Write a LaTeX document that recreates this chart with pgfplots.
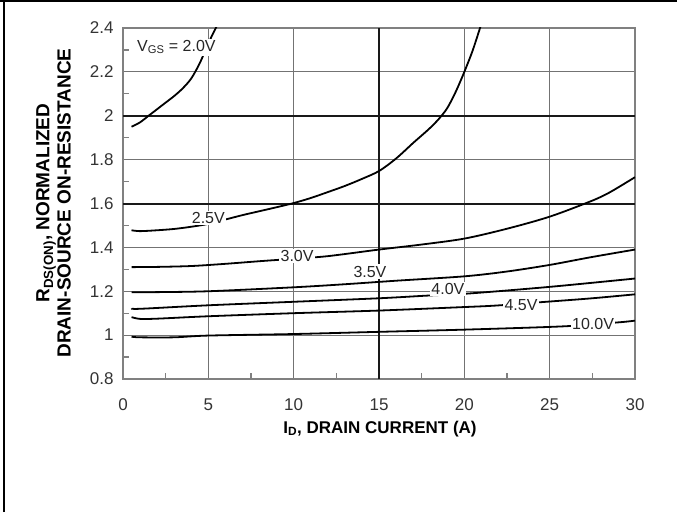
\documentclass[border=0pt]{standalone}
\usepackage{fontspec}
\setmainfont{Liberation Sans}
\usepackage{pgfplots}
\pgfplotsset{compat=1.18}
\definecolor{gridgray}{gray}{0.45}
\definecolor{axgray}{gray}{0.5}
\pgfplotsset{curve/.style={black, solid, line width=1.8pt, mark=none, smooth, tension=0.5}}
\begin{document}
\begin{tikzpicture}[x=1pt,y=1pt]
\useasboundingbox (0,0) rectangle (677,512);
\draw[line width=1.6pt] (0,511.2) -- (677,511.2);
\draw[line width=2.3pt] (3.8,0) -- (3.8,512);
\begin{axis}[
  at={(123pt,133pt)}, anchor=south west,
  width=512pt, height=351pt, scale only axis,
  xmin=0, xmax=30, ymin=0.8, ymax=2.4,
  xtick={0,5,10,20,25,30},
  ytick={0.8,1,1.2,1.4,1.8,2.2,2.4},
  yticklabels={0.8,1,1.2,1.4,1.8,2.2,2.4},
  minor xtick={2.5,7.5,12.5,17.5,22.5,27.5},
  minor ytick={0.9,1.1,1.3,1.5,1.7,1.9,2.1,2.3},
  extra x ticks={15}, extra x tick labels={15},
  extra y ticks={1.6,2.0}, extra y tick labels={1.6,2},
  extra tick style={grid=major, major grid style={black!90, line width=2pt}, major tick length=0pt},
  tick pos=left, tick align=inside,
  major tick length=0pt, minor tick length=6pt,
  minor tick style={axgray, line width=1.3pt},
  grid=major,
  major grid style={gridgray, line width=1.2pt},
  axis line style={axgray, line width=1.8pt},
  /pgf/number format/assume math mode=true,
  tick label style={font=\fontsize{17}{17}\selectfont, text=black!80},
  xticklabel style={yshift=-16pt},
  yticklabel style={xshift=-6pt},
]
% VGS = 2.0 V
\addplot[curve] coordinates {(0.5,1.95) (1,1.97) (1.5,2.0) (2,2.03) (2.5,2.06) (3,2.09) (3.5,2.125) (4,2.17) (4.5,2.24) (5,2.33) (5.5,2.41)};
% 2.5 V
\addplot[curve] coordinates {(0.5,1.478) (1,1.474) (2,1.478) (3,1.484) (4,1.494) (5,1.507) (6,1.527) (7,1.547) (8,1.565) (9,1.583) (10,1.602) (11,1.625) (12,1.652) (13,1.68) (14,1.712) (15,1.748) (16,1.805) (17,1.876) (17.5,1.91) (18,1.945) (18.5,1.985) (19,2.035) (19.5,2.11) (20,2.2) (20.5,2.3) (21,2.42)};
% 3.0 V
\addplot[curve] coordinates {(0.5,1.31) (2,1.311) (4,1.315) (6,1.325) (8,1.337) (10,1.348) (12,1.36) (15,1.39) (17.5,1.413) (20,1.44) (22.5,1.485) (25,1.54) (27.4,1.61) (28.5,1.65) (30,1.72)};
% 3.5 V
\addplot[curve] coordinates {(0.5,1.195) (2,1.196) (5,1.2) (10,1.218) (13,1.232) (16,1.248) (20,1.268) (22.5,1.29) (25,1.32) (27.4,1.355) (30,1.39)};
% 4.0 V
\addplot[curve] coordinates {(0.5,1.122) (1,1.12) (5,1.136) (10,1.152) (15,1.168) (17.8,1.18) (20.3,1.19) (25,1.22) (30,1.258)};
% 4.5 V
\addplot[curve] coordinates {(0.5,1.082) (1,1.074) (2,1.075) (5,1.086) (10,1.1) (15,1.112) (20,1.128) (21.9,1.135) (24.8,1.152) (27.5,1.168) (30,1.186)};
% 10.0 V
\addplot[curve] coordinates {(0.5,0.993) (1,0.99) (3,0.99) (5,0.998) (10,1.005) (15,1.015) (20,1.025) (25.8,1.04) (29,1.058) (30,1.066)};
\begin{scope}[every node/.style={fill=white, inner sep=1.5pt, font=\fontsize{16}{16}\selectfont, text=black!85}]
\node at (axis cs:3.13,2.313) {V\textsubscript{GS} = 2.0V};
\node at (axis cs:5.0,1.535) {2.5V};
\node at (axis cs:10.2,1.36) {3.0V};
\node at (axis cs:14.47,1.29) {3.5V};
\node at (axis cs:19.04,1.21) {4.0V};
\node at (axis cs:23.32,1.137) {4.5V};
\node at (axis cs:27.54,1.05) {10.0V};
\end{scope}
\end{axis}
\node[rotate=90, font=\bfseries\fontsize{19}{19}\selectfont] at (46,309) {R\textsubscript{DS(ON)}, NORMALIZED};
\node[rotate=90, font=\bfseries\fontsize{19}{19}\selectfont] at (64,309) {DRAIN-SOURCE ON-RESISTANCE};
\node[anchor=base, font=\bfseries\fontsize{17}{17}\selectfont] at (380,79) {I\textsubscript{D}, DRAIN CURRENT (A)};
\end{tikzpicture}
\end{document}
